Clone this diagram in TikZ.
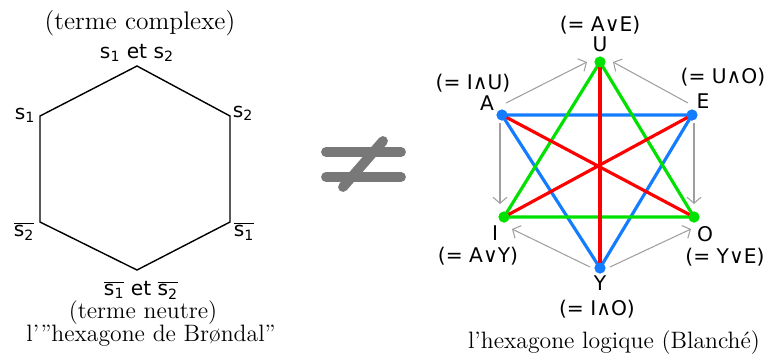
\documentclass[tikz,border=0pt]{standalone}
\usepackage{fontspec}
\setsansfont{DejaVu Sans}
\usetikzlibrary{arrows.meta}
\definecolor{logicblue}{RGB}{20,125,255}
\definecolor{logicgreen}{RGB}{0,225,0}
\definecolor{logicred}{RGB}{255,0,0}
\definecolor{neqgray}{RGB}{120,120,120}
\newcommand{\sv}[1]{s\textsubscript{#1}}
\newcommand{\sbar}[1]{$\overline{\hbox{s\textsubscript{#1}}}$}

\begin{document}
\begin{tikzpicture}[
			x=0.02cm, y=-0.02cm,
			serif/.style={font=\fontsize{13.5}{15}\selectfont, inner sep=0pt},
			lbl/.style={font=\sffamily\fontsize{11.5}{12}\selectfont, inner sep=0pt},
			hexline/.style={draw=black, line width=0.8pt, line join=miter},
			dot/.style={circle, inner sep=0pt, minimum size=0.22cm},
			bar/.style={line width=1.8pt},
			implies/.style={draw=gray!75, line width=0.6pt, -{Straight Barb[length=3.5pt,width=8pt]}},
			neq/.style={draw=neqgray, line width=5.6pt, line cap=round}
		]
		\useasboundingbox (0,0) rectangle (769,360);
		
		% Brondal hexagon
		\coordinate (b-top) at (137,66);
		\coordinate (b-ul) at (40,116);
		\coordinate (b-ur) at (230,116);
		\coordinate (b-ll) at (40,222);
		\coordinate (b-lr) at (230,222);
		\coordinate (b-bot) at (137,270);
		\draw[hexline] (b-top) -- (b-ur) -- (b-lr) -- (b-bot) -- (b-ll) -- (b-ul) -- cycle;
		
		\node[serif, font=\fontsize{14.5}{16}\selectfont] (complexe) at (140,23) {(terme complexe)};
		\node[lbl] (top-lbl) at (137,53) {\sv{1} et \sv{2}};
		\node[lbl] (ul-lbl) at (25,115) {\sv{1}};
		\node[lbl] (ur-lbl) at (243,113) {\sv{2}};
		\node[lbl] (ll-lbl) at (24,231) {\sbar{2}};
		\node[lbl] (lr-lbl) at (244,231) {\sbar{1}};
		\node[lbl] (bot-lbl) at (141,290) {\sbar{1} et \sbar{2}};
		\node[serif] (neutre) at (143,313) {(terme neutre)};
		\node[serif] (brondal) at (151,336) {l'"hexagone de Brøndal"};
		
		% not equal sign
		\draw[neq] (326,152) -- (401,152);
		\draw[neq] (326,177) -- (401,177);
		\draw[neq] (343,187) -- (383,141);
		
		% logical hexagon
		\node[dot, fill=logicgreen] (U) at (600,62) {};
		\node[dot, fill=logicblue] (A) at (502,115) {};
		\node[dot, fill=logicblue] (E) at (692,115) {};
		\node[dot, fill=logicgreen] (I) at (504,217) {};
		\node[dot, fill=logicgreen] (O) at (694,217) {};
		\node[dot, fill=logicblue] (Y) at (600,268) {};
		
		\draw[bar, logicblue] (A.center) -- (E.center) -- (Y.center) -- cycle;
		\draw[bar, logicgreen] (U.center) -- (O.center) -- (I.center) -- cycle;
		\draw[bar, logicred] (U.center) -- (Y.center);
		\draw[bar, logicred] (A.center) -- (O.center);
		\draw[bar, logicred] (E.center) -- (I.center);
		
		\node[dot, fill=logicgreen] at (U) {};
		\node[dot, fill=logicblue] at (A) {};
		\node[dot, fill=logicblue] at (E) {};
		\node[dot, fill=logicgreen] at (I) {};
		\node[dot, fill=logicgreen] at (O) {};
		\node[dot, fill=logicblue] at (Y) {};
		
		\draw[implies] ([shift={(4,-12)}]A.center) -- ([shift={(-13,0)}]U.center);
		\draw[implies] ([shift={(-4,-12)}]E.center) -- ([shift={(13,0)}]U.center);
		\draw[implies] ([shift={(-2,8)}]A.center) -- ([shift={(-4,-13)}]I.center);
		\draw[implies] ([shift={(2,8)}]E.center) -- ([shift={(0,-13)}]O.center);
		\draw[implies] ([shift={(-10,-1)}]Y.center) -- ([shift={(8,12)}]I.center);
		\draw[implies] ([shift={(10,-1)}]Y.center) -- ([shift={(-3,12)}]O.center);
		
		\node[lbl] (U-eq) at (600,25) {(= A∨E)};
		\node[lbl] (U-lbl) at (600,44) {U};
		\node[lbl] (A-eq) at (473,83) {(= I∧U)};
		\node[lbl] (A-lbl) at (487,103) {A};
		\node[lbl] (E-eq) at (723,77) {(= U∧O)};
		\node[lbl] (E-lbl) at (703,101) {E};
		\node[lbl] (I-lbl) at (495,233) {I};
		\node[lbl] (I-eq) at (478,256) {(= A∨Y)};
		\node[lbl] (O-lbl) at (705,234) {O};
		\node[lbl] (O-eq) at (725,257) {(= Y∨E)};
		\node[lbl] (Y-lbl) at (600,283) {Y};
		\node[lbl] (Y-eq) at (597,309) {(= I∧O)};
		\node[serif] (blanche) at (614,343) {l'hexagone logique (Blanché)};
		\end{tikzpicture}
\end{document}
